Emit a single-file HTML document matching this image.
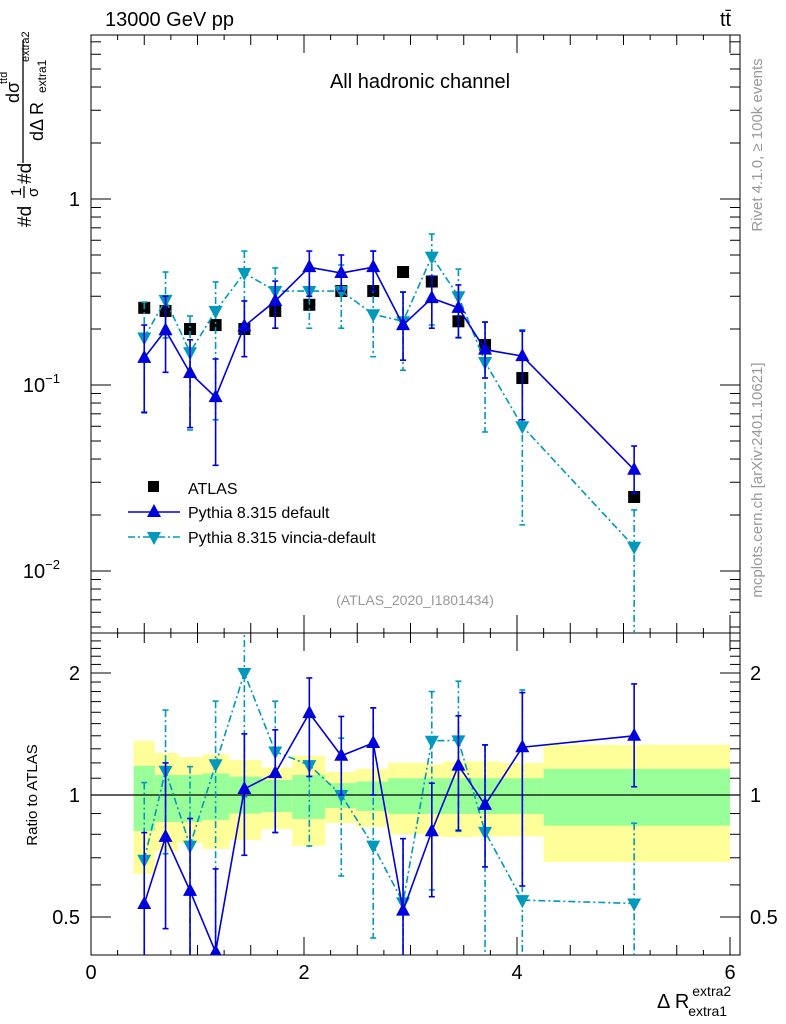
<!DOCTYPE html>
<html><head><meta charset="utf-8"><style>
html,body{margin:0;padding:0;background:#fff;overflow:hidden;}
svg{display:block;}
svg text{font-family:"Liberation Sans",sans-serif;}
</style></head><body>
<svg id="c" width="786" height="1024" xmlns="http://www.w3.org/2000/svg"></svg>
<script>
const xs=[0.5,0.7,0.93,1.17,1.44,1.73,2.05,2.35,2.65,2.93,3.2,3.45,3.7,4.05,5.1];
const atlas=[0.26,0.25,0.20,0.21,0.20,0.25,0.27,0.32,0.32,0.405,0.36,0.22,0.164,0.109,0.025];
const pdef=[0.14,0.197,0.116,0.086,0.207,0.283,0.43,0.40,0.43,0.21,0.293,0.26,0.155,0.143,0.035];
const pdefUp=[0.21,0.30,0.175,0.138,0.283,0.362,0.525,0.50,0.525,0.316,0.385,0.345,0.218,0.195,0.047];
const pdefDn=[0.071,0.117,0.059,0.037,0.142,0.202,0.30,0.32,0.32,0.136,0.202,0.18,0.109,0.065,0.0262];
const pvin=[0.18,0.287,0.15,0.25,0.40,0.32,0.32,0.32,0.24,0.22,0.49,0.30,0.133,0.06,0.0135];
const pvinUp=[0.279,0.405,0.235,0.358,0.525,0.426,0.426,0.442,0.525,0.316,0.648,0.42,0.218,0.198,0.0213];
const pvinDn=[0.0716,0.179,0.0573,0.065,0.198,0.202,0.202,0.202,0.142,0.12,0.21,0.179,0.0559,0.0177,0.001];
const binEdges=[0.4,0.6,0.82,1.05,1.3,1.6,1.89,2.2,2.49,2.79,3.16,3.3,3.6,3.85,4.25,6.0];
const yelHi=[1.36,1.27,1.24,1.26,1.22,1.17,1.25,1.14,1.16,1.20,1.19,1.21,1.21,1.20,1.33];
const yelLo=[0.638,0.727,0.761,0.736,0.774,0.824,0.749,0.853,0.834,0.80,0.79,0.788,0.79,0.79,0.683];
const grnHi=[1.18,1.12,1.12,1.13,1.11,1.09,1.12,1.07,1.08,1.10,1.10,1.10,1.10,1.10,1.16];
const grnLo=[0.815,0.858,0.858,0.868,0.90,0.908,0.873,0.929,0.913,0.898,0.898,0.898,0.898,0.898,0.84];
const xTicks=[0,2,4,6];

const L=91,R=740,T=35,MB=633,RB=955;
const X=v=>91+v*106.5;
const Y=v=>199-Math.log10(v)*186;
const YR=v=>795-Math.log2(v)*122;
const svg=document.getElementById('c');
const NS='http://www.w3.org/2000/svg';
function el(tag,at,parent){const e=document.createElementNS(NS,tag);for(const k in at)e.setAttribute(k,at[k]);(parent||svg).appendChild(e);return e;}
function txt(s,at,parent){const e=el('text',at,parent);e.textContent=s;return e;}
const DEF='#0000dd',VIN='#0099bb',DASH='7,3,2,3';
const defs=el('defs',{});
const c1=el('clipPath',{id:'cm'},defs);el('rect',{x:L,y:T,width:R-L,height:MB-T},c1);
const c2=el('clipPath',{id:'cr'},defs);el('rect',{x:L,y:MB,width:R-L,height:RB-MB},c2);

const gb=el('g',{'clip-path':'url(#cr)'});


for(let i=0;i<yelHi.length;i++){
  const x0=X(binEdges[i]),x1=X(binEdges[i+1]);
  const r1=el('rect',{x:x0,y:YR(yelHi[i]),width:x1-x0,height:YR(yelLo[i])-YR(yelHi[i]),fill:'#ffff99'},gb);
  
  
  const r2=el('rect',{x:x0,y:YR(grnHi[i]),width:x1-x0,height:YR(grnLo[i])-YR(grnHi[i]),fill:'#99ff99'},gb);
  
  
}
el('line',{x1:L,x2:R,y1:YR(1),y2:YR(1),stroke:'#000','stroke-width':1.2});

const f1=el('rect',{x:L,y:T,width:R-L,height:MB-T,fill:'none',stroke:'#000','stroke-width':1});

const f2=el('rect',{x:L,y:MB,width:R-L,height:RB-MB,fill:'none',stroke:'#000','stroke-width':1});


for(let e=-3;e<=1;e++){for(let m=1;m<10;m++){const v=m*Math.pow(10,e);const y=Y(v);if(y<T||y>MB)continue;const len=m==1?20:10;
 el('line',{x1:L,x2:L+len,y1:y,y2:y,stroke:'#000'});el('line',{x1:R-len,x2:R,y1:y,y2:y,stroke:'#000'});}}
const yl1=txt('1',{x:80,y:206,'font-size':20,'text-anchor':'end'});
[[-1,Y(0.1)],[-2,Y(0.01)]].forEach(([e,y])=>{const t=el('text',{x:60,y:y+7,'font-size':20,'text-anchor':'end'});t.textContent='10';const s=el('tspan',{dy:-9,'font-size':13},t);s.textContent='\u2212'+(-e);
 });
[0.5,1,2].forEach(v=>{const y=YR(v);el('line',{x1:L,x2:L+20,y1:y,y2:y,stroke:'#000'});el('line',{x1:R-20,x2:R,y1:y,y2:y,stroke:'#000'});
 const t=txt(String(v),{x:80,y:y+7,'font-size':20,'text-anchor':'end'});
 const t2=txt(String(v),{x:750,y:y+7,'font-size':20});});
for(let v=0.4;v<=2.5;v+=0.1){const y=YR(v);if(y<MB||y>RB)continue;el('line',{x1:L,x2:L+10,y1:y,y2:y,stroke:'#000'});el('line',{x1:R-10,x2:R,y1:y,y2:y,stroke:'#000'});}
for(let v=0;v<=6.01;v+=0.25){const x=X(v);const maj=Math.abs(v-Math.round(v/2)*2)<1e-6;const half=Math.abs(v*2-Math.round(v*2))<1e-6;const len=maj?18:(half?10:5);
 [[MB,1],[T,1],[RB,-1],[MB,-1]].forEach(([y0,d])=>el('line',{x1:x,x2:x,y1:y0,y2:y0+d*len,stroke:'#000'}));}
xTicks.forEach(v=>{const t=txt(String(v),{x:X(v),y:979,'font-size':20,'text-anchor':'middle'});});

function drawSeries(vals,up,dn,color,dash,marker,clip,yf,name){
 const g=el('g',{'clip-path':clip});
 
 
 for(let i=0;i<xs.length;i++){const x=X(xs[i]);
  el('line',{x1:x,x2:x,y1:yf(up[i]),y2:yf(Math.max(dn[i],1e-4)),stroke:color,'stroke-width':1.6,'stroke-dasharray':dash||'none'},g);
  el('line',{x1:x-3,x2:x+3,y1:yf(up[i]),y2:yf(up[i]),stroke:color,'stroke-width':1.6},g);
  el('line',{x1:x-3,x2:x+3,y1:yf(dn[i]),y2:yf(dn[i]),stroke:color,'stroke-width':1.6},g);}
 el('polyline',{points:xs.map((x,i)=>X(x)+','+yf(vals[i])).join(' '),fill:'none',stroke:color,'stroke-width':1.6,'stroke-dasharray':dash||'none'},g);
 for(let i=0;i<xs.length;i++){const x=X(xs[i]),y=yf(vals[i]);
  const p=marker=='up'?`${x},${y-8} ${x-7},${y+5} ${x+7},${y+5}`:`${x},${y+8} ${x-7},${y-5} ${x+7},${y-5}`;
  const m=el('polygon',{points:p,fill:color},g);
  
  }
}
const ga=el('g',{});


for(let i=0;i<xs.length;i++){const r=el('rect',{x:X(xs[i])-6,y:Y(atlas[i])-6,width:12,height:12,fill:'#000'},ga);
 
 }
drawSeries(pvin,pvinUp,pvinDn,VIN,DASH,'down','url(#cm)',Y,'pythia-vincia-series');
drawSeries(pdef,pdefUp,pdefDn,DEF,null,'up','url(#cm)',Y,'pythia-default-series');
const rat=(a)=>a.map((v,i)=>v/atlas[i]);
drawSeries(rat(pvin),rat(pvinUp),rat(pvinDn),VIN,DASH,'down','url(#cr)',YR,'ratio-vincia-series');
drawSeries(rat(pdef),rat(pdefUp),rat(pdefDn),DEF,null,'up','url(#cr)',YR,'ratio-default-series');

const lg=el('g',{});


el('rect',{x:148,y:481,width:11,height:11,fill:'#000'},lg);
txt('ATLAS',{x:188,y:494,'font-size':16},lg);
el('line',{x1:128,x2:180,y1:512,y2:512,stroke:DEF,'stroke-width':1.6},lg);
el('polygon',{points:'154,504 147,517 161,517',fill:DEF},lg);
txt('Pythia 8.315 default',{x:188,y:518,'font-size':16},lg);
el('line',{x1:128,x2:180,y1:537,y2:537,stroke:VIN,'stroke-width':1.6,'stroke-dasharray':DASH},lg);
el('polygon',{points:'154,545 147,532 161,532',fill:VIN},lg);
txt('Pythia 8.315 vincia-default',{x:188,y:543,'font-size':16},lg);

const t1=txt('13000 GeV pp',{x:105,y:26,'font-size':20});
const t2=txt('tt\u0304',{x:720,y:26,'font-size':20});
const t3=txt('All hadronic channel',{x:420,y:88,'font-size':20,'text-anchor':'middle'});
const t4=txt('(ATLAS_2020_I1801434)',{x:415,y:605,'font-size':14,'text-anchor':'middle',fill:'#999'});
const t5=txt('Rivet 4.1.0, \u2265 100k events',{x:0,y:0,'font-size':15,fill:'#999','text-anchor':'middle',transform:'translate(762,145) rotate(-90)'});
const t6=txt('mcplots.cern.ch [arXiv:2401.10621]',{x:0,y:0,'font-size':15,fill:'#999','text-anchor':'middle',transform:'translate(762,480) rotate(-90)'});
const t7=txt('Ratio to ATLAS',{x:0,y:0,'font-size':15,'text-anchor':'middle',transform:'translate(37,795) rotate(-90)'});

// y axis title (rotated group)
const yg=el('g',{transform:'translate(31,227) rotate(-90)'});


txt('#d',{x:0,y:0,'font-size':19},yg);
txt('1',{x:31,y:-10,'font-size':15},yg);
el('line',{x1:29,x2:41,y1:-7,y2:-7,stroke:'#000','stroke-width':1.3},yg);
txt('σ',{x:30,y:7,'font-size':15},yg);
txt('#d',{x:43,y:0,'font-size':19},yg);
el('line',{x1:64,x2:187,y1:-8,y2:-8,stroke:'#000','stroke-width':1.3},yg);
txt('dσ',{x:124,y:-12,'font-size':18},yg);
txt('ttd',{x:143,y:-24,'font-size':11},yg);
txt('dΔ R',{x:86,y:12,'font-size':18},yg);
txt('extra1',{x:134,y:15,'font-size':12},yg);
txt('extra2',{x:165,y:-2,'font-size':11},yg);

const xt=el('text',{x:657,y:1008,'font-size':20});

xt.innerHTML='Δ R<tspan font-size="14" dy="-12" dx="3">extra2</tspan><tspan font-size="14" dy="20" dx="-43">extra1</tspan>';
</script>
</body></html>
